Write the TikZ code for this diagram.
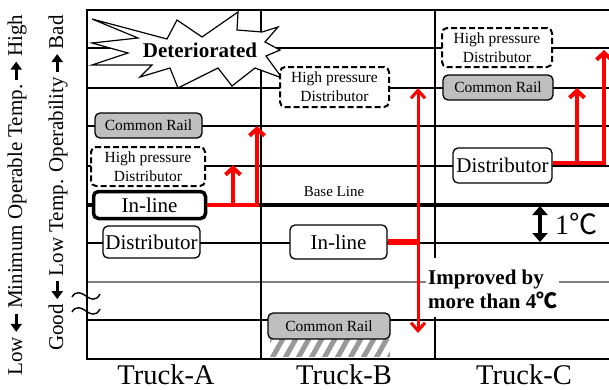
\documentclass[tikz,border=0pt]{standalone}
\usepackage{fontspec}
\setmainfont{Liberation Serif}
\newfontfamily\cjk{Noto Sans CJK JP}
\usetikzlibrary{arrows.meta}
\definecolor{crgray}{gray}{0.75}
\newcommand{\degC}{{\cjk ℃}}
\newcommand{\larr}{\tikz[baseline=-0.6ex]\draw[line width=3pt,{Triangle[length=8pt,width=11pt]}-] (0pt,0pt)--(18pt,0pt);}
\newcommand{\rarr}{\tikz[baseline=-0.6ex]\draw[line width=3pt,-{Triangle[length=8pt,width=11pt]}] (0pt,0pt)--(18pt,0pt);}
\begin{document}
\begin{tikzpicture}[x=1pt,y=-1pt,
  grid/.style={line width=1.3pt},
  box/.style={draw, rounded corners=5pt, fill=white, line width=1.3pt, inner sep=0pt, align=center},
  cr/.style={box, fill=crgray, font=\fontsize{15.5}{17}\selectfont},
  hp/.style={box, dash pattern=on 6pt off 3pt, line width=2pt, font=\fontsize{15.5}{19}\selectfont},
  big/.style={box, font=\fontsize{21}{24}\selectfont},
  redline/.style={red, line width=4pt},
  redarrow/.style={red, line width=4pt, -{Straight Barb[length=7pt,width=15pt]}},
  axislabel/.style={rotate=90, font=\fontsize{21}{24}\selectfont, inner sep=0pt},
  truck/.style={font=\fontsize{28.5}{30}\selectfont, anchor=base, inner sep=0pt},
]
\useasboundingbox (0,0) rectangle (609,389);

% grid lines
\foreach \yy in {48,88,126,166,243,320}
  \draw[grid] (87,\yy) -- (609,\yy);
\draw[line width=1.5pt, gray] (87,282) -- (609,282);
\draw[line width=4pt] (87,205) -- (609,205);
\draw[line width=2pt] (609,10) -- (87,10) -- (87,359) -- (609,359);
\draw[line width=1.5pt] (261,10) -- (261,359);
\draw[line width=1.5pt] (435,10) -- (435,258);
\draw[line width=1.5pt] (435,317) -- (435,359);

% break mark
\draw[line width=1.4pt] (72,297) .. controls (76,290) and (82,293) .. (86,296) .. controls (90,299) and (96,302) .. (100,294);
\draw[line width=1.4pt] (72,312) .. controls (76,305) and (82,308) .. (86,311) .. controls (90,314) and (96,317) .. (100,309);

% star
\draw[fill=white, line width=1.2pt] (92,19) -- (167,39) -- (177,20) -- (202,37) -- (238,12) -- (237,30) -- (262,32) -- (278,27) -- (265,42) -- (280,50) -- (266,56) -- (282,78) -- (255,68) -- (232,86) -- (218,68) -- (178,88) -- (170,68) -- (140,77) -- (152,65) -- (92,65) -- (128,53) -- (92,43) -- (138,38) -- cycle;
\node[font=\bfseries\fontsize{21}{24}\selectfont] (det) at (200,50) {Deteriorated};

% hatch under common rail B
\begin{scope}
  \clip (270,339) rectangle (390,356);
  \foreach \i in {0,...,11}
    \draw[gray!80, line width=5pt] (258+\i*13,360) -- (272+\i*13,335);
\end{scope}

% Truck-A
\node[cr, minimum width=107pt, minimum height=25pt] (crA) at (148.5,125.5) {Common Rail};
\node[hp, minimum width=114pt, minimum height=39pt] (hpA) at (148,166.5) {High pressure\\Distributor};
\node[big, line width=3.5pt, minimum width=112pt, minimum height=27pt] (inA) at (149.5,205) {In-line};
\node[big, minimum width=97pt, minimum height=32pt] (diA) at (151.5,242) {Distributor};

% Truck-B
\node[hp, minimum width=109pt, minimum height=40pt] (hpB) at (334.5,87) {High pressure\\Distributor};
\node[big, minimum width=97pt, minimum height=34pt] (inB) at (338.5,242) {In-line};
\node[cr, minimum width=122pt, minimum height=26pt] (crB) at (329,326) {Common Rail};

% Truck-C
\node[hp, minimum width=110pt, minimum height=39pt] (hpC) at (497,47.5) {High pressure\\Distributor};
\node[cr, minimum width=110pt, minimum height=25pt] (crC) at (498,87.5) {Common Rail};
\node[big, minimum width=99pt, minimum height=35pt] (diC) at (502.5,165.5) {Distributor};

% labels
\node[font=\fontsize{15}{17}\selectfont] (bl) at (334,192) {Base Line};
\node[font=\bfseries\fontsize{21}{24}\selectfont, fill=white, align=left, inner sep=2pt, anchor=west] (imp) at (426,289) {Improved by\\more than 4\degC};
\node[font=\fontsize{28}{30}\selectfont, anchor=west, inner sep=0pt] (one) at (555,224) {1\degC};

% red arrows
\coordinate (jA) at (257,205);
\draw[redarrow] (inA.east) -- (jA) -- (257,126);
\draw[redarrow] (233,205) -- (233,165);
\draw[red, line width=6pt] (inB.east) -- (418,242);
\draw[red, line width=3pt, {Straight Barb[length=8pt,width=14pt]}-{Straight Barb[length=8pt,width=14pt]}] (418,88) -- (418,333);
\coordinate (jC) at (604,163);
\draw[redarrow] ([yshift=2.5pt]diC.east) -- (jC) -- (604,50);
\draw[redarrow] (577,163) -- (577,88);

% 1 degree arrow
\draw[line width=3.5pt, {Triangle[length=9pt,width=15pt]}-{Triangle[length=9pt,width=15pt]}] (540,206) -- (540,242);

% trucks
\node[truck] (tA) at (166,384) {Truck-A};
\node[truck] (tB) at (344,384) {Truck-B};
\node[truck] (tC) at (524,384) {Truck-C};

% axis labels
\node[axislabel] (ax1) at (17,195) {Low\,\larr\,Minimum Operable Temp.\,\rarr\,High};
\node[axislabel] (ax2) at (58,183) {Good\,\larr\,Low Temp. Operability\,\rarr\,Bad};
\end{tikzpicture}
\end{document}
